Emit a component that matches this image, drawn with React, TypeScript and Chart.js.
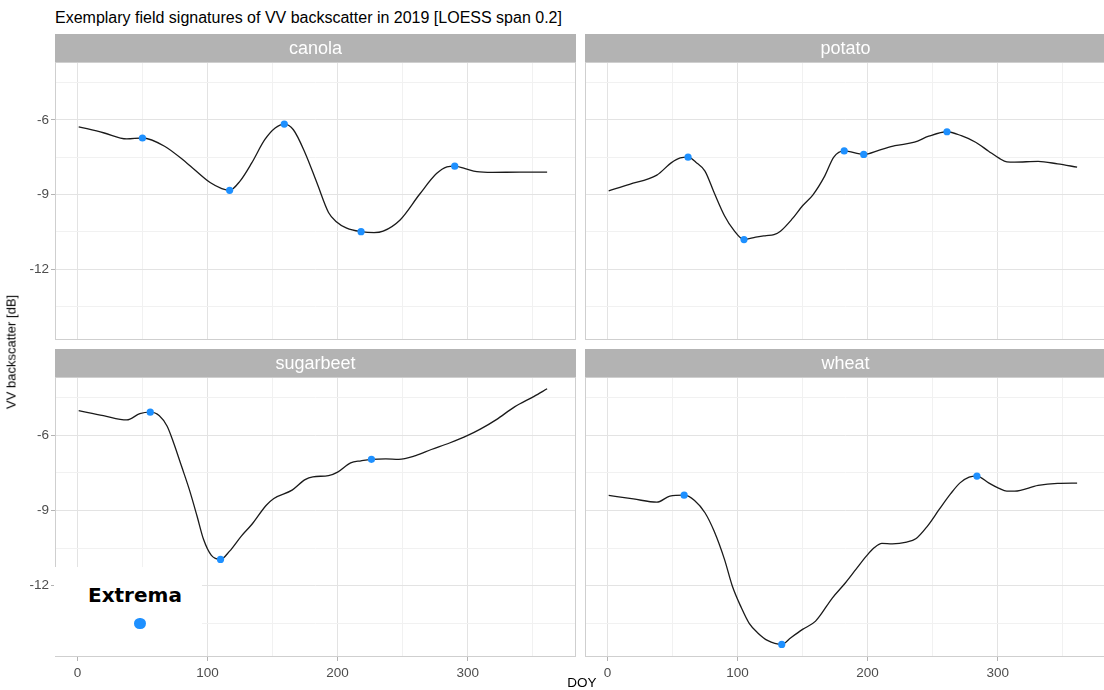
import React, { useEffect, useRef } from "react";
import { Chart, registerables } from "chart.js";

Chart.register(...registerables);
Chart.defaults.font.family = '"Liberation Sans", Arial, sans-serif';

// ---- data ----
const cropNames = ["canola", "potato", "sugarbeet", "wheat"];

const canolaDoy = [1, 20, 38, 50, 67, 84, 102, 111, 117, 125, 134, 144, 152, 159, 166, 175, 184, 193, 199, 207, 218, 228, 235, 248, 263, 276, 284, 290, 298, 307, 319, 340, 361];
const canolaVv = [-6.28, -6.52, -6.77, -6.73, -7.06, -7.73, -8.52, -8.76, -8.83, -8.46, -7.73, -6.8, -6.33, -6.17, -6.4, -7.33, -8.52, -9.72, -10.09, -10.35, -10.49, -10.53, -10.47, -10.02, -8.99, -8.16, -7.89, -7.86, -7.96, -8.08, -8.11, -8.1, -8.1];
const canolaExtDoy = [50, 117, 159, 218, 290];
const canolaExtVv = [-6.73, -8.83, -6.17, -10.49, -7.86];

const potatoDoy = [1, 17, 38, 49, 56, 62, 68, 75, 82, 90, 97, 105, 114, 122, 128, 133, 142, 150, 158, 167, 174, 182, 197, 209, 221, 236, 247, 261, 272, 283, 293, 301, 307, 313, 331, 346, 361];
const potatoVv = [-8.85, -8.59, -8.22, -7.73, -7.53, -7.5, -7.7, -8.06, -8.92, -9.85, -10.42, -10.81, -10.71, -10.65, -10.61, -10.47, -9.98, -9.45, -9.01, -8.26, -7.5, -7.25, -7.39, -7.22, -7.04, -6.9, -6.66, -6.48, -6.64, -6.9, -7.26, -7.54, -7.69, -7.7, -7.67, -7.77, -7.9];
const potatoExtDoy = [62, 105, 182, 197, 261];
const potatoExtVv = [-7.5, -10.81, -7.25, -7.39, -6.48];

const sugarbeetDoy = [1, 20, 38, 48, 56, 63, 69, 74, 80, 86, 92, 97, 103, 110, 117, 126, 134, 145, 151, 165, 175, 181, 193, 200, 210, 218, 226, 237, 247, 260, 272, 286, 300, 310, 322, 336, 351, 361];
const sugarbeetVv = [-5.02, -5.22, -5.39, -5.14, -5.08, -5.22, -5.64, -6.31, -7.23, -8.16, -9.23, -10.16, -10.79, -10.95, -10.62, -10.02, -9.56, -8.8, -8.52, -8.19, -7.77, -7.66, -7.61, -7.47, -7.1, -7.02, -6.96, -6.94, -6.96, -6.81, -6.57, -6.31, -6.01, -5.75, -5.38, -4.87, -4.45, -4.15];
const sugarbeetExtDoy = [56, 110, 226];
const sugarbeetExtVv = [-5.08, -10.95, -6.96];

const wheatDoy = [1, 20, 38, 48, 59, 67, 75, 82, 90, 96, 103, 109, 116, 123, 134, 141, 150, 160, 173, 183, 191, 199, 205, 211, 219, 230, 237, 246, 255, 264, 271, 278, 284, 293, 301, 307, 313, 331, 346, 361];
const wheatVv = [-8.4, -8.54, -8.67, -8.43, -8.39, -8.6, -9.09, -9.82, -10.95, -12.01, -12.88, -13.5, -13.9, -14.18, -14.34, -14.07, -13.74, -13.41, -12.48, -11.88, -11.35, -10.82, -10.49, -10.31, -10.33, -10.26, -10.13, -9.62, -8.96, -8.32, -7.9, -7.67, -7.63, -7.9, -8.12, -8.23, -8.23, -8.0, -7.92, -7.91];
const wheatExtDoy = [59, 134, 284];
const wheatExtVv = [-8.39, -14.34, -7.63];

const xGridValues = [0, 50, 100, 150, 200, 250, 300, 350];
const xTickLabels = [0, 100, 200, 300];
const yGridValues = [-13.5, -12, -10.5, -9, -7.5, -6, -4.5];
const yTickLabels = [-6, -9, -12];

const X_MIN = -17.2;
const X_MAX = 383.2;
const Y_MIN = -14.84;
const Y_MAX = -3.68;

const MAJOR_GRID = "#E3E3E3";
const MINOR_GRID = "#F1F1F1";
const TICK_COLOR = "#B3B3B3";
const isX = (v: number) => xTickLabels.some((t) => Math.abs(t - v) < 1e-6);
const isY = (v: number) => yTickLabels.some((t) => Math.abs(t - v) < 1e-6);

type PanelProps = {
  name: string;
  doy: number[];
  vv: number[];
  extDoy: number[];
  extVv: number[];
  col: number;
  row: number;
};

function Panel({ name, doy, vv, extDoy, extVv, col, row }: PanelProps) {
  const ref = useRef<HTMLCanvasElement>(null);
  const left = col === 0 ? 0 : 580;
  const width = col === 0 ? 580 : 530;
  const top = row === 0 ? 30 : 345;
  const height = row === 0 ? 314 : 342;
  const showY = col === 0;
  const showX = row === 1;

  useEffect(() => {
    const deco = {
      id: "panelDeco",
      afterDraw(chart: any) {
        const { ctx, chartArea: a } = chart;
        ctx.save();
        ctx.strokeStyle = "#CFCFCF";
        ctx.lineWidth = 1;
        ctx.strokeRect(a.left + 0.5, a.top + 0.5, a.right - a.left - 1, a.bottom - a.top - 1);
        ctx.fillStyle = "#B3B3B3";
        ctx.fillRect(a.left, a.top - 28, a.right - a.left, 28);
        ctx.fillStyle = "#FFFFFF";
        ctx.font = '18px "Liberation Sans", Arial, sans-serif';
        ctx.textAlign = "center";
        ctx.textBaseline = "middle";
        ctx.fillText(name, (a.left + a.right) / 2, a.top - 13);
        ctx.restore();
      },
    };

    const chart = new Chart(ref.current as HTMLCanvasElement, {
      type: "scatter",
      data: {
        datasets: [
          {
            data: extDoy.map((x, i) => ({ x, y: extVv[i] })),
            showLine: false,
            pointRadius: 3.6,
            pointBackgroundColor: "#1E90FF",
            pointBorderWidth: 0,
            order: 0,
          },
          {
            data: doy.map((x, i) => ({ x, y: vv[i] })),
            showLine: true,
            pointRadius: 0,
            borderColor: "#1A1A1A",
            borderWidth: 1.3,
            cubicInterpolationMode: "monotone",
            order: 1,
          },
        ],
      },
      options: {
        animation: false,
        responsive: false,
        events: [],
        layout: { padding: { left: 0, right: 2, top: 32, bottom: row === 0 ? 2 : 0 } },
        plugins: { legend: { display: false }, tooltip: { enabled: false } },
        scales: {
          x: {
            type: "linear",
            min: X_MIN,
            max: X_MAX,
            afterBuildTicks: (s: any) => {
              s.ticks = xGridValues.map((value) => ({ value }));
            },
            afterFit: (s: any) => {
              s.height = showX ? 30 : 0;
              s.paddingLeft = 0;
              s.paddingRight = 0;
            },
            border: { display: false },
            grid: {
              color: (c: any) => (c.tick && isX(c.tick.value) ? MAJOR_GRID : MINOR_GRID),
              lineWidth: 1,
              drawTicks: showX,
              tickLength: 4,
              tickWidth: 1,
              tickColor: (c: any) => (c.tick && isX(c.tick.value) ? TICK_COLOR : "rgba(0,0,0,0)"),
            },
            ticks: {
              display: showX,
              autoSkip: false,
              maxRotation: 0,
              minRotation: 0,
              padding: 4,
              color: "#4D4D4D",
              font: { size: 13.5 },
              callback: (v: any) => (isX(Number(v)) ? String(v) : ""),
            },
          },
          y: {
            type: "linear",
            min: Y_MIN,
            max: Y_MAX,
            afterBuildTicks: (s: any) => {
              s.ticks = yGridValues.map((value) => ({ value }));
            },
            afterFit: (s: any) => {
              s.width = showY ? 55 : 5;
              s.paddingTop = 0;
              s.paddingBottom = 0;
            },
            border: { display: false },
            grid: {
              color: (c: any) => (c.tick && isY(c.tick.value) ? MAJOR_GRID : MINOR_GRID),
              lineWidth: 1,
              drawTicks: showY,
              tickLength: 4,
              tickWidth: 1,
              tickColor: (c: any) => (c.tick && isY(c.tick.value) ? TICK_COLOR : "rgba(0,0,0,0)"),
            },
            ticks: {
              display: showY,
              autoSkip: false,
              padding: 2,
              color: "#4D4D4D",
              font: { size: 13.5 },
              callback: (v: any) => (isY(Number(v)) ? String(v) : ""),
            },
          },
        },
      } as any,
      plugins: [deco],
    });
    return () => chart.destroy();
  }, []);

  return (
    <canvas
      ref={ref}
      width={width}
      height={height}
      style={{ position: "absolute", left, top, width, height }}
    />
  );
}

export default function App() {
  const font = '"Liberation Sans", Arial, sans-serif';
  return (
    <div
      style={{
        position: "absolute",
        left: 0,
        top: 0,
        width: 1104,
        height: 690,
        overflow: "hidden",
        background: "#FFFFFF",
        fontFamily: font,
      }}
    >
      <div
        style={{
          position: "absolute",
          left: 55,
          top: 10,
          fontSize: 16,
          lineHeight: "16px",
          color: "#000",
          whiteSpace: "nowrap",
        }}
      >
        Exemplary field signatures of VV backscatter in 2019 [LOESS span 0.2]
      </div>

      <Panel name={cropNames[0]} doy={canolaDoy} vv={canolaVv} extDoy={canolaExtDoy} extVv={canolaExtVv} col={0} row={0} />
      <Panel name={cropNames[1]} doy={potatoDoy} vv={potatoVv} extDoy={potatoExtDoy} extVv={potatoExtVv} col={1} row={0} />
      <Panel name={cropNames[2]} doy={sugarbeetDoy} vv={sugarbeetVv} extDoy={sugarbeetExtDoy} extVv={sugarbeetExtVv} col={0} row={1} />
      <Panel name={cropNames[3]} doy={wheatDoy} vv={wheatVv} extDoy={wheatExtDoy} extVv={wheatExtVv} col={1} row={1} />

      <div
        style={{
          position: "absolute",
          left: 11,
          top: 352,
          transform: "translate(-50%, -50%) rotate(-90deg)",
          fontSize: 13,
          lineHeight: "13px",
          whiteSpace: "nowrap",
          color: "#000",
        }}
      >
        VV backscatter [dB]
      </div>
      <div
        style={{
          position: "absolute",
          left: 582,
          top: 683,
          transform: "translate(-50%, -50%)",
          fontSize: 13.5,
          lineHeight: "14px",
          whiteSpace: "nowrap",
          color: "#000",
        }}
      >
        DOY
      </div>

      <div
        style={{
          position: "absolute",
          left: 54,
          top: 567,
          width: 148,
          height: 89,
          background: "#FFFFFF",
        }}
      >
        <div
          style={{
            position: "absolute",
            left: 34,
            top: 18.4,
            fontFamily: '"DejaVu Sans", sans-serif',
            fontWeight: "bold",
            fontSize: 20,
            lineHeight: "20px",
            whiteSpace: "nowrap",
            color: "#000",
          }}
        >
          Extrema
        </div>
        <div
          style={{
            position: "absolute",
            left: 80.2,
            top: 50.5,
            width: 11.6,
            height: 11.6,
            borderRadius: "50%",
            background: "#1E90FF",
          }}
        />
      </div>
    </div>
  );
}
